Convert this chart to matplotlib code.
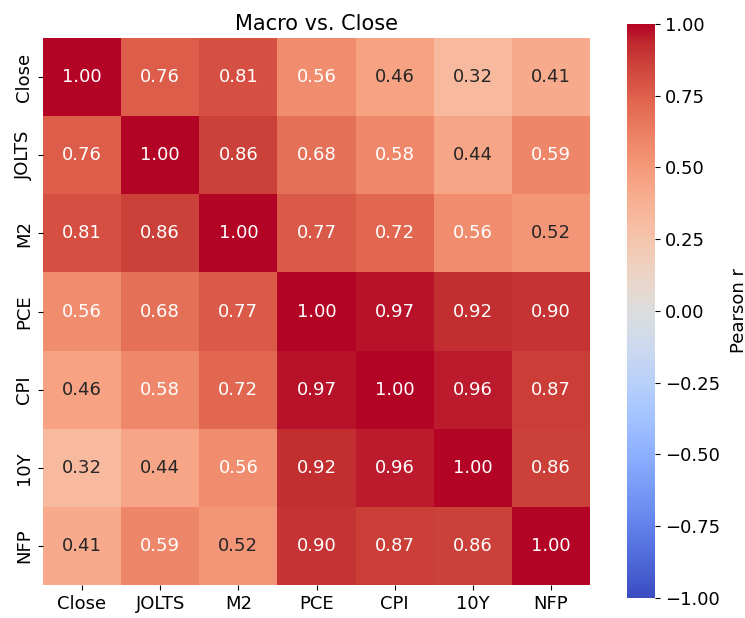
import matplotlib
matplotlib.use("Agg")
import matplotlib.pyplot as plt
import seaborn as sns
import numpy as np
import pandas as pd

labels = ["Close", "JOLTS", "M2", "PCE", "CPI", "10Y", "NFP"]
close = [1.00, 0.76, 0.81, 0.56, 0.46, 0.32, 0.41]
jolts = [0.76, 1.00, 0.86, 0.68, 0.58, 0.44, 0.59]
m2    = [0.81, 0.86, 1.00, 0.77, 0.72, 0.56, 0.52]
pce   = [0.56, 0.68, 0.77, 1.00, 0.97, 0.92, 0.90]
cpi   = [0.46, 0.58, 0.72, 0.97, 1.00, 0.96, 0.87]
ten_y = [0.32, 0.44, 0.56, 0.92, 0.96, 1.00, 0.86]
nfp   = [0.41, 0.59, 0.52, 0.90, 0.87, 0.86, 1.00]

corr = pd.DataFrame([close, jolts, m2, pce, cpi, ten_y, nfp],
                    index=labels, columns=labels)

fig = plt.figure(figsize=(7.45, 6.18), dpi=100)
ax = fig.add_axes([0.0577, 0.0534, 0.7343, 0.8851])
cax = fig.add_axes([0.8416, 0.0324, 0.0376, 0.9288])

sns.heatmap(corr, ax=ax, cbar_ax=cax, cmap="coolwarm", vmin=-1, vmax=1,
            annot=True, fmt=".2f", annot_kws={"fontsize": 13})
ax.set_title("Macro vs. Close", fontsize=15)
ax.tick_params(labelsize=13)
cax.tick_params(labelsize=13)
cax.set_ylabel("Pearson r", fontsize=13, labelpad=7)

fig.savefig("out.png", dpi=100)
